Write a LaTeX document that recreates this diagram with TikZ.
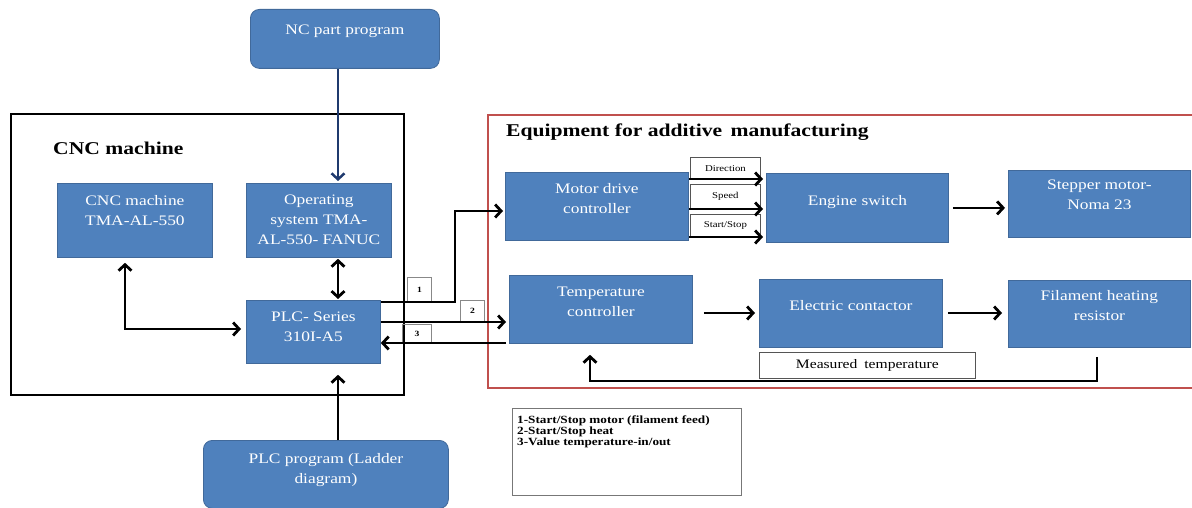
\documentclass[tikz,border=0pt]{standalone}
\usepackage{fontspec}
\setmainfont{Liberation Serif}[FakeStretch=1.2]
\usetikzlibrary{arrows.meta,calc}
\definecolor{blu}{HTML}{4F81BD}
\definecolor{bord}{HTML}{41699A}
\definecolor{redf}{HTML}{C0504D}
\definecolor{navy}{HTML}{1F3A6E}
\definecolor{thin}{HTML}{555555}
\begin{document}
\begin{tikzpicture}[x=1pt,y=-1pt,
  blk/.style={draw=bord, fill=blu, line width=0.8pt, inner sep=0pt, anchor=north west},
  rblk/.style={blk, rounded corners=9pt},
  wt/.style={anchor=north, inner sep=0pt, text=white, align=center, font=\fontsize{14.5}{20}\selectfont},
  arr/.style={line width=2.8pt, -{Straight Barb[length=6pt,width=13pt]}},
  darr/.style={line width=2.8pt, {Straight Barb[length=6pt,width=13pt]}-{Straight Barb[length=6pt,width=13pt]}},
  sigbox/.style={draw=thin, line width=0.8pt, fill=white, inner sep=0pt, anchor=south west, font=\fontsize{9}{10}\selectfont},
  numbox/.style={draw=thin!70, line width=0.8pt, inner sep=0pt, anchor=south west, font=\fontsize{8}{9}\selectfont\bfseries},
  ttl/.style={anchor=west, inner sep=0pt, font=\fontsize{18}{20}\selectfont\bfseries}
]
\useasboundingbox (0,0) rectangle (1192,508);

% frames
\node[draw=black, line width=2.4pt, inner sep=0pt, anchor=north west, minimum width=393pt, minimum height=281pt] (cncf) at (10,113) {};
\node[ttl] (cnct) at (53,148) {CNC machine};
\node[draw=redf, line width=2pt, inner sep=0pt, anchor=north west, minimum width=712pt, minimum height=273pt] (amf) at (487,114) {};
\node[ttl] (amt) at (506,132) {Equipment for additive\hspace{3pt} manufacturing};

% blue blocks
\node[rblk, minimum width=189pt, minimum height=59pt, label={[wt,yshift=-16pt]north:NC part program}] (nc) at (250,9) {};
\node[blk, minimum width=155pt, minimum height=74pt, label={[wt,yshift=-12pt]north:CNC machine\\TMA-AL-550}] (tma) at (57,183) {};
\node[blk, minimum width=145pt, minimum height=74pt, label={[wt,yshift=-12pt]north:Operating\\system TMA-\\AL-550- FANUC}] (os) at (246,183) {};
\node[blk, minimum width=134pt, minimum height=63pt, label={[wt,yshift=-12pt]north:PLC- Series\\310I-A5}] (plc) at (246,300) {};
\node[rblk, minimum width=245pt, minimum height=68pt, label={[wt,yshift=-13pt]north:PLC program (Ladder\\diagram)}] (plcp) at (203,440) {};
\node[blk, minimum width=183pt, minimum height=68pt, label={[wt,yshift=-11pt]north:Motor drive\\controller}] (mdc) at (505,172) {};
\node[blk, minimum width=182pt, minimum height=69pt, label={[wt,yshift=-22pt]north:Engine switch}] (es) at (766,173) {};
\node[blk, minimum width=182pt, minimum height=67pt, label={[wt,yshift=-10pt]north:Stepper motor-\\Noma 23}] (sm) at (1008,170) {};
\node[blk, minimum width=183pt, minimum height=68pt, label={[wt,yshift=-12pt]north:Temperature\\controller}] (tc) at (509,275) {};
\node[blk, minimum width=183pt, minimum height=68pt, label={[wt,yshift=-21pt]north:Electric contactor}] (ec) at (759,279) {};
\node[blk, minimum width=182pt, minimum height=67pt, label={[wt,yshift=-10pt]north:Filament heating\\resistor}] (fh) at (1008,280) {};

% signal label boxes
\node[sigbox, minimum width=70pt, minimum height=21pt] (dir) at (690,179) {Direction};
\node[sigbox, minimum width=70pt, minimum height=24pt] (spd) at (690,209) {Speed};
\node[sigbox, minimum width=70pt, minimum height=22pt] (ss) at (690,237) {Start/Stop};

\node[numbox, minimum width=24pt, minimum height=24pt] (n1) at (407,302) {1};
\node[numbox, minimum width=24pt, minimum height=21pt] (n2) at (460,322) {2};
\node[numbox, minimum width=29pt, minimum height=18pt] (n3) at (402,343) {3};

\node[draw=thin, line width=0.8pt, inner sep=0pt, anchor=north west, minimum width=216pt, minimum height=26pt, font=\fontsize{13}{14}\selectfont] (mt) at (759,352) {Measured\hspace{3pt} temperature};

\node[draw=thin!80, line width=0.8pt, inner sep=0pt, anchor=north west, minimum width=229pt, minimum height=87pt,
  label={[anchor=north west, inner sep=0pt, align=left, font=\fontsize{11}{11}\selectfont\bfseries, xshift=5pt, yshift=-8pt]north west:1-Start/Stop motor (filament feed)\\2-Start/Stop heat\\3-Value temperature-in/out}] (leg) at (512,408) {};

% coordinates
\coordinate (vx) at (338,0);
\coordinate (tx) at (125,329);
\coordinate (k1) at (455,302);
\coordinate (k2) at (455,211);
\coordinate (k3) at (0,322);
\coordinate (k4) at (0,343);
\coordinate (k5) at (0,313);
\coordinate (f1) at (1097,381);
\coordinate (f2) at (590,381);

% connectors
\draw[arr, navy, line width=2.5pt, shorten >=2pt] (nc.south -| vx) -- (os.north -| vx);
\draw[darr, shorten <=1pt, shorten >=1pt] (os.south -| vx) -- (plc.north -| vx);
\draw[arr, shorten >=11pt] (plcp.north -| vx) -- (plc.south -| vx);
\draw[darr, shorten <=5pt, shorten >=5pt] (tma.south -| tx) |- (plc.west |- tx);

\draw[arr, shorten >=2pt] (plc.east |- k1) -- (k1) -- (k2) -- (mdc.west |- k2);
\draw[arr, shorten >=3pt] (plc.east |- k3) -- (tc.west |- k3);
\draw[arr, shorten <=3pt] (tc.west |- k4) -- (plc.east |- k4);

\draw[arr, shorten >=3pt] (mdc.east |- dir.south) -- (es.west |- dir.south);
\draw[arr, shorten >=3pt] (mdc.east |- spd.south) -- (es.west |- spd.south);
\draw[arr, shorten >=3pt] (mdc.east |- ss.south) -- (es.west |- ss.south);

\draw[arr, shorten <=4pt, shorten >=3pt] (es.east) -- (sm.west |- es.east);
\draw[arr, shorten <=11pt, shorten >=4pt] (tc.east |- k5) -- (ec.west |- k5);
\draw[arr, shorten <=5pt, shorten >=6pt] (ec.east |- k5) -- (fh.west |- k5);

\draw[arr, shorten <=9pt, shorten >=11pt] (fh.south -| f1) -- (f1) -- (f2) -- (tc.south -| f2);
\end{tikzpicture}
\end{document}
